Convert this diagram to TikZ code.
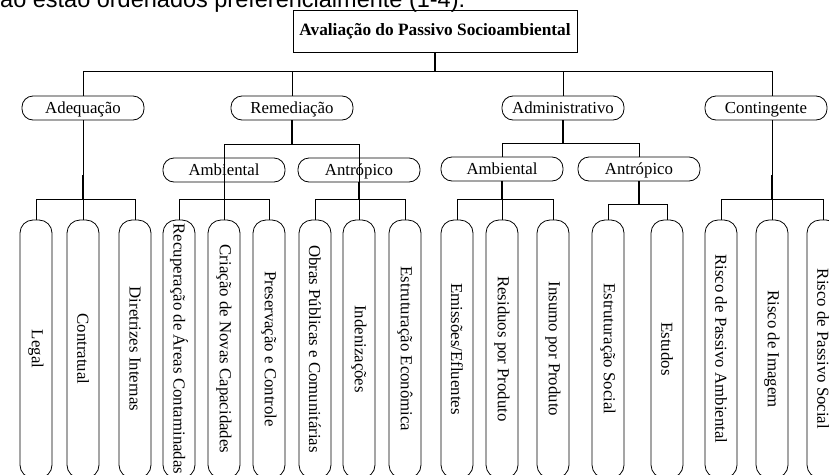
\documentclass[tikz,border=0pt]{standalone}
\usepackage{fontspec}
\setmainfont{Liberation Serif}
\newfontfamily\topsans{Liberation Sans}
\usepackage{graphicx}
\begin{document}
\begin{tikzpicture}[x=1pt,y=-1pt,
  thinline/.style={line width=0.8pt},
  thickline/.style={line width=1.6pt},
  catbox/.style={draw, line width=0.8pt, rounded corners=11pt, minimum width=122pt, minimum height=24pt, inner sep=0pt, text height=12pt, text depth=2pt, font=\fontsize{16.8}{18}\selectfont},
  leafbox/.style={draw, line width=0.8pt, rounded corners=13pt, minimum width=32pt, minimum height=258pt, inner sep=0pt, font=\fontsize{16.8}{18}\selectfont},
  ]
\useasboundingbox (0,0) rectangle (829,474);
% cut-off line of text above the chart
\node[anchor=base west, inner sep=0pt, font=\topsans\fontsize{23.5}{25}\selectfont] (note) at (0,7) {ão estão ordenados preferencialmente (1-4).};
% root
\node[draw, line width=0.8pt, minimum width=284pt, minimum height=42pt, inner sep=0pt, font=\bfseries\fontsize{17.3}{19}\selectfont] (root) at (435,31) {Avaliação do Passivo Socioambiental};
% level 1
\node[catbox] (adeq) at (83,108) {Adequação};
\node[catbox] (reme) at (292,108) {Remediação};
\node[catbox] (admi) at (563,108) {Administrativo};
\node[catbox] (cont) at (766,108) {Contingente};
% level 2
\node[catbox] (ramb) at (224,170) {Ambiental};
\node[catbox] (rant) at (359,170) {Antrópico};
\node[catbox] (aamb) at (502,169) {Ambiental};
\node[catbox] (aant) at (639,169) {Antrópico};
% leaves
\node[leafbox] (l1) at (36,349) {\rotatebox{-90}{Legal}};
\node[leafbox] (l2) at (83,349) {\rotatebox{-90}{Contratual}};
\node[leafbox] (l3) at (135,349) {\rotatebox{-90}{Diretrizes Internas}};
\node[leafbox] (l4) at (179,349) {\rotatebox{-90}{Recuperação de Áreas Contaminadas}};
\node[leafbox] (l5) at (224,349) {\rotatebox{-90}{Criação de Novas Capacidades}};
\node[leafbox] (l6) at (269,349) {\rotatebox{-90}{Preservação e Controle}};
\node[leafbox] (l7) at (315,349) {\rotatebox{-90}{Obras Públicas e Comunitárias}};
\node[leafbox] (l8) at (359,349) {\rotatebox{-90}{Indenizações}};
\node[leafbox] (l9) at (405,349) {\rotatebox{-90}{Estruturação Econômica}};
\node[leafbox] (l10) at (457,349) {\rotatebox{-90}{Emissões/Efluentes}};
\node[leafbox] (l11) at (502,349) {\rotatebox{-90}{Residuos por Produto}};
\node[leafbox] (l12) at (553,349) {\rotatebox{-90}{Insumo por Produto}};
\node[leafbox] (l13) at (608,349) {\rotatebox{-90}{Estruturação Social}};
\node[leafbox] (l14) at (667,349) {\rotatebox{-90}{Estudos}};
\node[leafbox] (l15) at (721,349) {\rotatebox{-90}{Risco de Passivo Ambiental}};
\node[leafbox] (l16) at (772,349) {\rotatebox{-90}{Risco de Imagem}};
\node[leafbox] (l17) at (823,349) {\rotatebox{-90}{Risco de Passivo Social}};
% junction levels
\coordinate (j0) at (0,71);
\coordinate (j1r) at (0,144);
\coordinate (j1a) at (0,143);
\coordinate (k) at (0,175);
\coordinate (j2) at (0,199);
\coordinate (j2b) at (0,204);
% root -> level 1
\draw[thickline] (root.south) -- (root.south |- j0);
\draw[thinline] (adeq.north |- j0) -- (l16.north |- j0);
\foreach \n in {adeq,reme,admi} \draw[thinline] (\n.north |- j0) -- (\n.north);
\draw[thinline] (l16.north |- j0) -- (l16.north |- cont.north);
% Remediacao -> level 2
\draw[thickline] (reme.south) -- (reme.south |- j1r);
\draw[thinline] (ramb.north |- j1r) -- (rant.north |- j1r);
\draw[thinline] (ramb.north |- j1r) -- (ramb.north);
\draw[thinline] (rant.north |- j1r) -- (rant.north);
\draw[thinline] (ramb.north) -- (ramb.south);
\draw[thinline] (rant.north) -- (rant.south);
% Administrativo -> level 2
\draw[thickline] (admi.south) -- (admi.south |- j1a);
\draw[thinline] (aamb.north |- j1a) -- (aant.north |- j1a);
\draw[thinline] (aamb.north |- j1a) -- (aamb.north);
\draw[thinline] (aant.north |- j1a) -- (aant.north);
% Adequacao -> leaves
\draw[thinline] (adeq.south) -- (adeq.south |- j2);
\draw[thickline] (adeq.south |- k) -- (adeq.south |- j2);
\draw[thinline] (l1.north |- j2) -- (l3.north |- j2);
\foreach \n in {l1,l2,l3} \draw[thinline] (\n.north |- j2) -- (\n.north);
% Remediacao Ambiental -> leaves
\draw[thinline] (ramb.south) -- (ramb.south |- j2);
\draw[thinline] (l4.north |- j2) -- (l6.north |- j2);
\foreach \n in {l4,l5,l6} \draw[thinline] (\n.north |- j2) -- (\n.north);
% Remediacao Antropico -> leaves
\draw[thickline] (rant.south) -- (rant.south |- j2);
\draw[thinline] (l7.north |- j2) -- (l9.north |- j2);
\foreach \n in {l7,l8,l9} \draw[thinline] (\n.north |- j2) -- (\n.north);
% Administrativo Ambiental -> leaves
\draw[thickline] (aamb.south) -- (aamb.south |- j2);
\draw[thinline] (l10.north |- j2) -- (l12.north |- j2);
\foreach \n in {l10,l11,l12} \draw[thinline] (\n.north |- j2) -- (\n.north);
% Administrativo Antropico -> leaves
\draw[thickline] (aant.south) -- (aant.south |- j2b);
\draw[thinline] (l13.north |- j2b) -- (l14.north |- j2b);
\foreach \n in {l13,l14} \draw[thinline] (\n.north |- j2b) -- (\n.north);
% Contingente -> leaves
\draw[thinline] (l16.north |- cont.south) -- (l16.north |- j2);
\draw[thickline] (l16.north |- k) -- (l16.north |- j2);
\draw[thinline] (l15.north |- j2) -- (l17.north |- j2);
\foreach \n in {l15,l16,l17} \draw[thinline] (\n.north |- j2) -- (\n.north);
\end{tikzpicture}
\end{document}
